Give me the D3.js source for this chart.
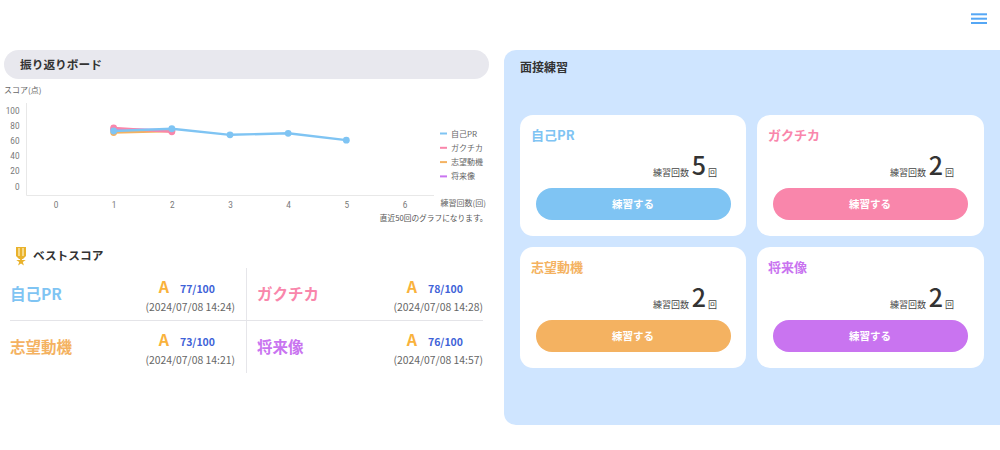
<!DOCTYPE html>
<html lang="ja"><head><meta charset="utf-8">
<script src="https://cdn.jsdelivr.net/npm/d3@7"></script>
<style>
html,body{margin:0;padding:0;background:#fff;overflow:hidden}
svg{display:block}
text{font-family:"Noto Sans CJK JP","Noto Sans",sans-serif}
</style></head><body><svg id="c" width="1000" height="450"></svg>
<script>
const categories=["自己PR","ガクチカ","志望動機","将来像"];
const colors=["#7fc4f3","#f986ab","#f4b261","#c974f0"];
const seriesSelfPR=[[1,73],[2,76],[3,68],[4,70],[5,61]];
const seriesGakuchika=[[1,77],[2,72]];
const seriesMotive=[[1,71],[2,73]];
const seriesFuture=[[1,75],[2,74]];
const allSeries=[seriesSelfPR,seriesGakuchika,seriesMotive,seriesFuture];
const yTicks=[0,20,40,60,80,100];
const xTicks=[0,1,2,3,4,5,6];
const practiceCounts=[5,2,2,2];
const bestScores=["77/100","78/100","73/100","76/100"];
const bestDates=["(2024/07/08 14:24)","(2024/07/08 14:28)","(2024/07/08 14:21)","(2024/07/08 14:57)"];

const svg=d3.select("#c");
function t(x,y,s,size,fill,anchor,weight){
  return svg.append("text").attr("x",x).attr("y",y).text(s).attr("font-size",size)
    .attr("fill",fill).attr("text-anchor",anchor||"start").attr("font-weight",weight||400);
}
// hamburger
[14.3,18.7,23].forEach(y=>svg.append("rect").attr("x",971).attr("y",y-1).attr("width",16).attr("height",2).attr("fill","#55a7f5"));
// left header
svg.append("rect").attr("x",4).attr("y",50).attr("width",485).attr("height",29).attr("rx",14.5).attr("fill","#e8e8ee");
t(20,69,"振り返りボード",11.7,"#333","start",700);
t(4,93,"スコア(点)",8,"#666");

// chart
const x=d3.scaleLinear().domain([0,6]).range([55.5,404.5]);
const y=d3.scaleLinear().domain([0,100]).range([186.5,110.5]);
const gy=svg.append("g").attr("transform","translate(26.5,0)")
  .call(d3.axisLeft(y).tickValues(yTicks).tickSize(0).tickPadding(7));
const gx=svg.append("g").attr("transform","translate(0,195.5)")
  .call(d3.axisBottom(x).tickValues(xTicks).tickFormat(d3.format("d")).tickSize(0).tickPadding(7));
[gy,gx].forEach(g=>{g.select(".domain").remove();
  g.selectAll("text").attr("font-size",8.2).attr("fill","#777").style("font-family","Roboto,'Noto Sans',sans-serif");});
svg.append("line").attr("x1",26.5).attr("x2",26.5).attr("y1",103).attr("y2",195.5).attr("stroke","#e8e8e8");
svg.append("line").attr("x1",26.5).attr("x2",434).attr("y1",195.5).attr("y2",195.5).attr("stroke","#e8e8e8");
const line=d3.line().x(d=>x(d[0])).y(d=>y(d[1]));
[3,2,1,0].forEach(i=>{
  svg.append("path").attr("d",line(allSeries[i])).attr("fill","none").attr("stroke",colors[i]).attr("stroke-width",2.4);
  svg.selectAll(null).data(allSeries[i]).enter().append("circle")
    .attr("cx",d=>x(d[0])).attr("cy",d=>y(d[1])).attr("r",3.4).attr("fill",colors[i]);
});
// legend
categories.forEach((c,i)=>{
  const ly=133.5+i*14.3;
  svg.append("line").attr("x1",440).attr("x2",447).attr("y1",ly).attr("y2",ly).attr("stroke",colors[i]).attr("stroke-width",2);
  t(451,ly+3,c,8,"#666");
});
t(486,206,"練習回数(回)",8,"#666","end");
t(487.5,221,"直近50回のグラフになります。",7.7,"#555","end");

// best score heading: medal
svg.append("path").attr("d","M16 247h10v9l-3 3h-4l-3-3z").attr("fill","#e9b22c");
svg.append("path").attr("d","M19 248v8M23 248v8").attr("stroke","#fff3c8").attr("stroke-width",1.2);
svg.append("path").attr("d",d3.symbol(d3.symbolStar,28)()).attr("transform","translate(21,261.5)").attr("fill","#e9b22c");
t(33,260,"ベストスコア",11.7,"#333","start",700);

// best grid
svg.append("line").attr("x1",246.5).attr("x2",246.5).attr("y1",268).attr("y2",373).attr("stroke","#e6e6ea");
svg.append("line").attr("x1",10).attr("x2",483).attr("y1",320.5).attr("y2",320.5).attr("stroke","#e4e4e8").attr("stroke-width",1.2);
const cols=[10,257], rights=[235,483], rows=[300,353];
categories.forEach((c,i)=>{
  const col=i%2,row=i>>1,r=rights[col],by=rows[row];
  t(cols[col],by,c,15.5,colors[i],"start",700);
  t(r-71,by-7,"A",16,"#f9b23c","middle",700);
  t(r-20,by-7,bestScores[i],10.5,"#3f63d8","end",700);
  t(r,by+11,bestDates[i],10.4,"#666","end");
});

// right panel
svg.append("path").attr("d","M1000 50H516a12 12 0 0 0-12 12V413a12 12 0 0 0 12 12H1000z").attr("fill","#cfe5ff");
t(520,72,"面接練習",12,"#333","start",700);
const cardX=[520,757],cardY=[115,247];
categories.forEach((c,i)=>{
  const cx=cardX[i%2],cy=cardY[i>>1];
  svg.append("rect").attr("x",cx).attr("y",cy).attr("width",i%2?227:226).attr("height",121).attr("rx",13).attr("fill","#fff");
  t(cx+11,cy+25,c,13,colors[i],"start",700);
  t(cx+169,cy+60.5,"練習回数",9,"#444","end");
  t(cx+179,cy+60,practiceCounts[i],25,"#333","middle",500);
  t(cx+197,cy+60.5,"回",9,"#444","end");
  svg.append("rect").attr("x",cx+16).attr("y",cy+73).attr("width",195).attr("height",32).attr("rx",16).attr("fill",colors[i]);
  t(cx+113,cy+93,"練習する",10.5,"#fff","middle",700);
});
</script></body></html>
